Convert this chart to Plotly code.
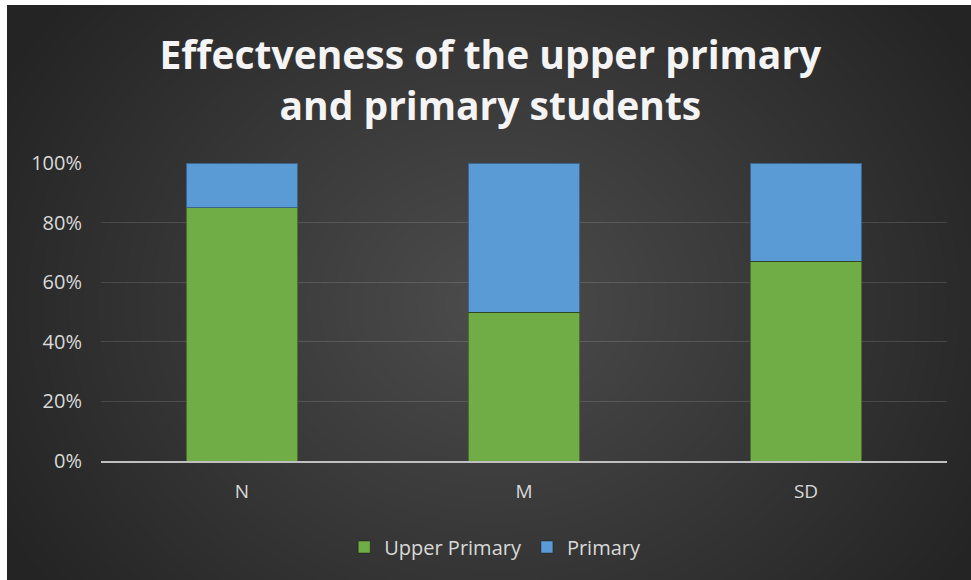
import numpy as np
import plotly.graph_objects as go

# Chart data (share of students per category, in percent)
categories = ["N", "M", "SD"]
upper_primary = [85, 50, 67]
primary = [15, 50, 33]

W, H = 971, 580
FONT = "Open Sans"
TEXT = "#d9d9d9"

# Soft radial backdrop: lighter centre fading to dark edges
gx = np.linspace(0, W, 60)
gy = np.linspace(0, H, 40)
XX, YY = np.meshgrid(gx, gy)
dist = np.sqrt(((XX - 490) / 560) ** 2 + ((YY - 300) / 480) ** 2)
shade = np.clip(1 - dist, 0, 1)

fig = go.Figure()

fig.add_trace(go.Heatmap(
    x=gx, y=gy, z=shade, zsmooth="best", showscale=False, hoverinfo="skip",
    colorscale=[[0, "rgb(36,36,36)"], [1, "rgb(76,76,76)"]], zmin=0, zmax=1,
    xaxis="x", yaxis="y",
))

fig.add_trace(go.Bar(
    name="Upper Primary", x=categories, y=upper_primary,
    marker=dict(color="#70ad47", line=dict(color="rgba(0,0,0,0.35)", width=1)),
    xaxis="x2", yaxis="y2",
))
fig.add_trace(go.Bar(
    name="Primary", x=categories, y=primary,
    marker=dict(color="#5b9bd5", line=dict(color="rgba(0,0,0,0.35)", width=1)),
    xaxis="x2", yaxis="y2",
))

fig.update_layout(
    template="none",
    width=W, height=H,
    margin=dict(l=0, r=0, t=0, b=0, pad=0, autoexpand=False),
    paper_bgcolor="white",
    plot_bgcolor="rgba(0,0,0,0)",
    barmode="stack", barnorm="percent", bargap=0.606,
    title=dict(
        text="Effectveness of the upper primary<br>and primary students",
        x=0.505, xanchor="center", xref="paper",
        y=1 - 69 / H, yanchor="middle", yref="paper", automargin=False,
        font=dict(family=FONT, size=39, color="#f4f4f4", weight="bold"),
    ),
    xaxis=dict(domain=[7 / W, 1], range=[0, W], visible=False,
               fixedrange=True, automargin=False),
    yaxis=dict(domain=[0, 1 - 5 / H], range=[H, 0], visible=False,
               fixedrange=True, automargin=False),
    xaxis2=dict(
        domain=[101 / W, 947 / W], anchor="y2", automargin=False,
        showgrid=False, showline=True, linecolor="#bfbfbf", linewidth=2,
        zeroline=False, ticks="", ticklabelstandoff=12,
        tickfont=dict(family=FONT, size=19, color=TEXT),
    ),
    yaxis2=dict(
        domain=[(H - 461) / H, (H - 163) / H], anchor="x2", automargin=False,
        range=[0, 100], dtick=20, ticksuffix="%",
        showgrid=True, gridcolor="rgba(255,255,255,0.13)", gridwidth=1,
        zeroline=False, showline=False, ticks="", ticklabelstandoff=18,
        tickfont=dict(family=FONT, size=20, color=TEXT),
    ),
    showlegend=True,
    legend=dict(
        orientation="h", x=0.51, xanchor="center", y=1 - 547 / H, yanchor="middle",
        font=dict(family=FONT, size=20, color=TEXT),
        bgcolor="rgba(0,0,0,0)", traceorder="normal",
    ),
)

fig.write_html("out.html")
